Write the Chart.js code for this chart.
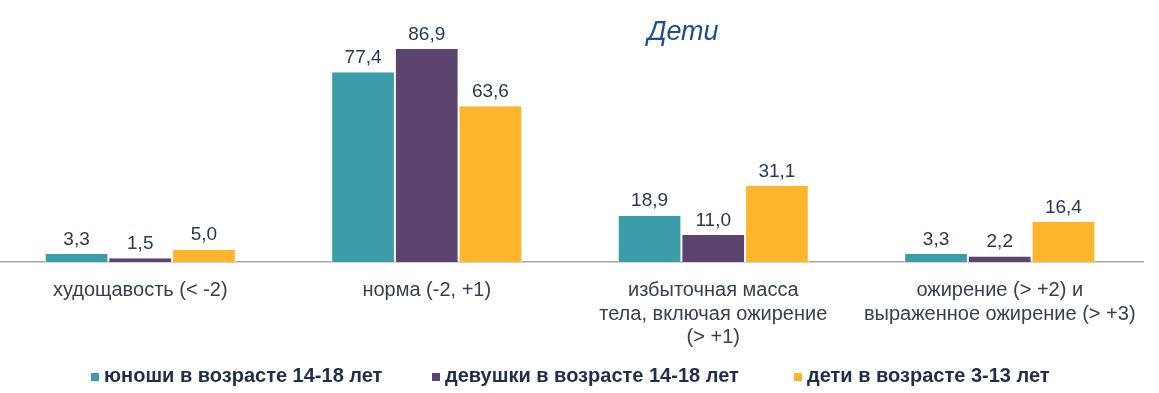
<!DOCTYPE html>
<html>
<head>
<meta charset="utf-8">
<script src="https://cdn.jsdelivr.net/npm/chart.js@4/dist/chart.umd.min.js"></script>
<style>
  html, body { margin:0; padding:0; background:#fff; width:1159px; height:393px; overflow:hidden; }
  #wrap { position:absolute; left:-3px; top:0; width:1162px; height:393px; }
  #title { position:absolute; left:600px; width:166px; top:16px; text-align:center;
           font-family:"Liberation Sans", Arial, sans-serif; font-style:italic; font-size:27px; color:#1F4E8E; }
  #legend { position:absolute; left:0; top:363px; font-family:"Liberation Sans", Arial, sans-serif;
            font-weight:bold; font-size:20px; line-height:24px; color:#1F2E4C; white-space:nowrap; }
  #legend span.item { position:absolute; top:0; }
  #legend span.box { display:inline-block; width:8px; height:8px; margin-right:5px; vertical-align:1px; }
</style>
</head>
<body>
<div id="wrap"><canvas id="c" width="1162" height="393"></canvas></div>
<div id="title">Дети</div>
<div id="legend"></div>
<script>
const categories = [
  "худощавость (< -2)",
  "норма (-2, +1)",
  ["избыточная масса", "тела, включая ожирение", "(> +1)"],
  ["ожирение (> +2) и", "выраженное ожирение (> +3)"]
];
const seriesNames = ["юноши в возрасте 14-18 лет", "девушки в возрасте 14-18 лет", "дети в возрасте 3-13 лет"];
const boys = [3.3, 77.4, 18.9, 3.3];
const girls = [1.5, 86.9, 11.0, 2.2];
const children = [5.0, 63.6, 31.1, 16.4];
const colors = ["#3C9DAA", "#5C446F", "#FDB52E"];
const legendLeft = [91, 432, 794];

const seriesValues = [boys, girls, children];

const legendEl = document.getElementById('legend');
seriesNames.forEach((n, i) => {
  const item = document.createElement('span');
  item.className = 'item';
  item.style.left = legendLeft[i] + 'px';
  const b = document.createElement('span');
  b.className = 'box';
  b.style.background = colors[i];
  item.appendChild(b);
  item.appendChild(document.createTextNode(n));
  legendEl.appendChild(item);
});

const valueLabels = {
  id: 'valueLabels',
  afterDatasetsDraw(chart) {
    const ctx = chart.ctx;
    ctx.save();
    ctx.font = '19px "Liberation Sans", Arial, sans-serif';
    ctx.fillStyle = '#253858';
    ctx.textAlign = 'center';
    ctx.textBaseline = 'bottom';
    chart.data.datasets.forEach((ds, di) => {
      chart.getDatasetMeta(di).data.forEach((bar, i) => {
        ctx.fillText(ds.data[i].toFixed(1).replace('.', ','), bar.x, bar.y - 5);
      });
    });
    ctx.restore();
  }
};

new Chart(document.getElementById('c'), {
  type: 'bar',
  data: {
    labels: categories,
    datasets: seriesValues.map((vals, i) => ({
      label: seriesNames[i],
      data: vals,
      backgroundColor: colors[i],
      borderColor: '#ffffff',
      borderWidth: { left: 1, right: 1, top: 0, bottom: 0 },
      categoryPercentage: 0.667,
      barPercentage: 1.0
    }))
  },
  options: {
    responsive: false,
    animation: false,
    layout: { padding: { left: 0, right: 16, top: 17, bottom: 0 } },
    plugins: { legend: { display: false }, tooltip: { enabled: false }, title: { display: false } },
    scales: {
      y: { display: false, min: 0, max: 100 },
      x: {
        grid: { display: false, drawTicks: false },
        border: { display: true, color: '#A6A6A6', width: 1.5 },
        ticks: {
          color: '#36404F',
          font: { family: '"Liberation Sans", Arial, sans-serif', size: 20, lineHeight: 1.17 },
          padding: 17,
          maxRotation: 0,
          autoSkip: false
        },
        afterFit(scale) { scale.height = 131; }
      }
    }
  },
  plugins: [valueLabels]
});
</script>
</body>
</html>
